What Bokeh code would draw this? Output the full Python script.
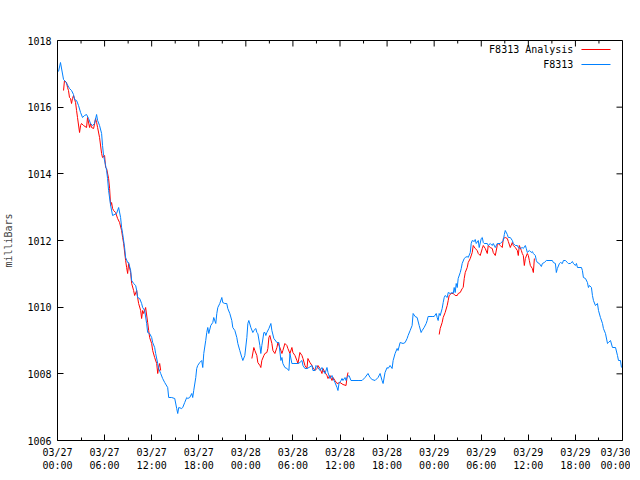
from bokeh.plotting import figure
from bokeh.models import Range1d, FixedTicker, Label
from bokeh.embed import file_html
from bokeh.resources import INLINE

FONT = "DejaVu Sans Mono"

title_text = "Barometric Pressure for F8313 on 2024-Mar-27 (time in UTC)"
y_label = "milliBars"
series_names = ["F8313 Analysis", "F8313"]

# hours since 2024-03-27 00:00 UTC
x_ticks = [0, 6, 12, 18, 24, 30, 36, 42, 48, 54, 60, 66, 72]
x_minor = [3, 9, 15, 21, 27, 33, 39, 45, 51, 57, 63, 69]
x_tick_labels = ["03/27\n00:00", "03/27\n06:00", "03/27\n12:00", "03/27\n18:00",
                 "03/28\n00:00", "03/28\n06:00", "03/28\n12:00", "03/28\n18:00",
                 "03/29\n00:00", "03/29\n06:00", "03/29\n12:00", "03/29\n18:00",
                 "03/30\n00:00"]
y_ticks = [1006, 1008, 1010, 1012, 1014, 1016, 1018]

# F8313 observations
obs_hours = [0.13, 0.38, 0.77, 1.02, 1.53, 1.79, 2.04, 2.17, 2.43, 2.68, 2.94, 3.19, 3.45, 3.70, 3.96, 4.21, 4.47, 4.72, 4.98, 5.11,
             5.36, 5.62, 5.74, 5.87, 6.13, 6.26, 6.38, 6.51, 6.77, 7.02, 7.53, 7.79, 8.04, 8.17, 8.30, 8.55, 8.68, 8.94, 9.06, 9.32,
             9.45, 9.70, 9.96, 10.09, 10.21, 10.47, 10.72, 10.85, 11.11, 11.36, 11.49, 11.74, 12.00, 12.13, 12.38, 12.51, 12.77, 12.89, 13.15, 13.40,
             13.66, 14.04, 14.17, 14.55, 14.94, 15.19, 15.32, 15.45, 15.83, 15.96, 16.21, 16.47, 16.60, 16.85, 17.11, 17.23, 17.36, 17.62, 17.74, 17.87,
             18.13, 18.38, 18.51, 18.64, 18.89, 19.02, 19.15, 19.28, 19.53, 19.79, 19.91, 20.17, 20.30, 20.43, 20.68, 20.94, 21.06, 21.32, 21.57, 21.70,
             21.96, 22.21, 22.34, 22.60, 22.85, 22.98, 23.23, 23.49, 23.62, 23.87, 24.13, 24.26, 24.38, 24.64, 24.89, 25.02, 25.28, 25.40, 25.53, 25.79,
             25.91, 26.04, 26.30, 26.43, 26.55, 26.68, 26.94, 27.19, 27.32, 27.57, 27.96, 28.21, 28.47, 28.60, 28.72, 28.98, 29.23, 29.49, 29.62, 29.87,
             30.13, 30.64, 30.89, 31.15, 31.28, 31.53, 31.79, 32.04, 32.43, 32.55, 32.81, 32.94, 33.19, 33.45, 33.70, 33.83, 34.09, 34.34, 34.47, 34.72,
             34.98, 35.11, 35.36, 35.62, 35.74, 35.87, 36.13, 36.26, 36.38, 36.64, 36.77, 36.89, 37.15, 37.40, 37.66, 38.30, 38.81, 39.19, 39.57, 39.83,
             40.09, 40.47, 40.85, 41.11, 41.36, 41.49, 41.74, 42.00, 42.13, 42.38, 42.64, 42.77, 43.02, 43.28, 43.40, 43.66, 44.04, 44.30, 44.55, 44.68,
             44.94, 45.19, 45.32, 45.57, 45.83, 46.09, 46.34, 46.47, 46.72, 46.98, 47.11, 47.23, 47.74, 48.00, 48.26, 48.38, 48.51, 48.64, 48.77, 49.02,
             49.15, 49.28, 49.40, 49.66, 49.79, 50.04, 50.30, 50.43, 50.55, 50.68, 50.81, 50.94, 51.06, 51.32, 51.45, 51.57, 51.83, 51.96, 52.21, 52.34,
             52.60, 52.72, 52.85, 53.11, 53.23, 53.36, 53.62, 53.74, 54.00, 54.13, 54.26, 54.38, 54.77, 54.89, 55.15, 55.40, 55.53, 55.79, 56.04, 56.43,
             56.81, 56.94, 57.06, 57.32, 57.45, 57.70, 57.96, 58.09, 58.34, 58.60, 58.72, 58.98, 59.23, 59.36, 59.62, 59.74, 59.87, 60.13, 60.38, 60.51,
             60.64, 60.89, 61.02, 61.15, 61.40, 61.66, 61.79, 62.04, 62.30, 63.06, 63.19, 63.45, 63.57, 63.70, 63.96, 64.09, 64.34, 64.47, 64.72, 64.98,
             65.11, 65.36, 65.62, 65.74, 66.00, 66.13, 66.26, 66.77, 66.89, 67.02, 67.28, 67.53, 67.66, 67.79, 68.04, 68.17, 68.30, 68.55, 68.81, 68.94,
             69.19, 69.45, 69.57, 69.83, 70.09, 70.21, 70.47, 70.72, 71.11, 71.36, 71.49, 71.74, 71.87]
obs_mb = [1017.07, 1017.34, 1016.83, 1016.77, 1016.56, 1016.50, 1016.38, 1016.23, 1016.20, 1016.05, 1015.84, 1015.69, 1015.75, 1015.78, 1015.66, 1015.51, 1015.45, 1015.51, 1015.78, 1015.60,
          1015.45, 1015.21, 1014.85, 1014.55, 1014.25, 1014.10, 1013.86, 1013.50, 1013.05, 1012.75, 1012.81, 1012.99, 1012.69, 1012.39, 1012.21, 1011.79, 1011.49, 1011.34, 1011.34, 1011.10,
          1010.80, 1010.71, 1010.65, 1010.50, 1010.29, 1010.26, 1010.11, 1009.99, 1009.90, 1009.51, 1009.24, 1009.21, 1009.09, 1008.94, 1008.79, 1008.61, 1008.31, 1008.16, 1008.01, 1007.86,
          1007.74, 1007.59, 1007.29, 1007.29, 1007.26, 1006.96, 1006.81, 1006.99, 1006.96, 1006.99, 1007.14, 1007.29, 1007.26, 1007.29, 1007.41, 1007.29, 1007.50, 1007.89, 1008.16, 1008.25,
          1008.34, 1008.40, 1008.19, 1008.61, 1009.00, 1009.24, 1009.39, 1009.21, 1009.45, 1009.54, 1009.69, 1009.51, 1009.81, 1009.99, 1010.11, 1010.29, 1010.14, 1010.11, 1010.11, 1009.96,
          1009.81, 1009.60, 1009.39, 1009.30, 1009.09, 1008.91, 1008.70, 1008.49, 1008.40, 1008.55, 1009.09, 1009.51, 1009.60, 1009.39, 1009.24, 1009.30, 1009.36, 1009.24, 1009.21, 1008.85,
          1008.61, 1008.85, 1009.24, 1009.24, 1009.15, 1009.24, 1009.36, 1009.51, 1009.30, 1009.06, 1008.94, 1008.94, 1008.40, 1008.49, 1008.31, 1008.19, 1008.16, 1008.10, 1008.61, 1008.31,
          1008.31, 1008.31, 1008.34, 1008.40, 1008.25, 1008.16, 1008.16, 1008.19, 1008.25, 1008.10, 1008.10, 1008.25, 1008.19, 1008.10, 1008.19, 1008.10, 1008.01, 1008.19, 1008.04, 1007.86,
          1007.95, 1007.86, 1007.74, 1007.59, 1007.50, 1007.71, 1007.80, 1007.86, 1007.80, 1007.89, 1007.80, 1007.89, 1007.95, 1007.80, 1007.80, 1007.80, 1007.80, 1007.89, 1008.01, 1007.89,
          1007.83, 1007.80, 1007.89, 1008.01, 1007.80, 1007.71, 1008.04, 1008.19, 1008.16, 1008.25, 1008.16, 1008.40, 1008.61, 1008.76, 1008.70, 1008.94, 1008.91, 1008.94, 1009.06, 1009.15,
          1009.30, 1009.45, 1009.81, 1009.72, 1009.69, 1009.45, 1009.24, 1009.30, 1009.39, 1009.51, 1009.60, 1009.72, 1009.72, 1009.72, 1009.81, 1009.69, 1009.60, 1009.81, 1009.75, 1009.96,
          1010.14, 1010.29, 1010.35, 1010.29, 1010.44, 1010.41, 1010.44, 1010.41, 1010.59, 1010.44, 1010.71, 1010.59, 1010.86, 1011.04, 1011.16, 1011.31, 1011.46, 1011.49, 1011.52, 1011.49,
          1011.64, 1011.91, 1012.00, 1011.97, 1012.03, 1011.91, 1012.00, 1011.79, 1012.06, 1012.09, 1011.94, 1011.91, 1011.91, 1011.85, 1011.91, 1011.85, 1011.91, 1011.79, 1011.91, 1011.91,
          1012.00, 1012.18, 1012.30, 1012.18, 1012.09, 1012.09, 1012.00, 1011.91, 1011.85, 1011.85, 1011.79, 1011.76, 1011.79, 1011.76, 1011.85, 1011.76, 1011.64, 1011.70, 1011.64, 1011.67,
          1011.61, 1011.55, 1011.40, 1011.34, 1011.31, 1011.22, 1011.31, 1011.34, 1011.40, 1011.40, 1011.34, 1011.31, 1011.04, 1011.16, 1011.31, 1011.34, 1011.31, 1011.40, 1011.40, 1011.34,
          1011.31, 1011.31, 1011.37, 1011.31, 1011.25, 1011.31, 1011.19, 1011.19, 1011.10, 1010.89, 1010.86, 1010.74, 1010.59, 1010.65, 1010.59, 1010.35, 1010.20, 1010.05, 1010.11, 1009.90,
          1009.69, 1009.51, 1009.36, 1009.21, 1008.91, 1008.94, 1009.00, 1008.79, 1008.79, 1008.55, 1008.40, 1008.40, 1008.19]

# F8313 Analysis (three separate runs)
ana1_hours = [0.77, 0.89, 1.15, 1.28, 1.40, 1.53, 1.66, 1.79, 1.91, 2.04, 2.30, 2.43, 2.55, 2.81, 2.94, 3.06, 3.32, 3.70, 3.83, 4.09,
              4.21, 4.34, 4.60, 4.85, 4.98, 5.11, 5.36, 5.62, 5.74, 6.00, 6.13, 6.26, 6.51, 6.64, 6.77, 6.89, 7.02, 7.15, 7.40, 7.66,
              7.91, 8.17, 8.30, 8.43, 8.68, 8.81, 8.94, 9.06, 9.32, 9.45, 9.70, 9.83, 10.09, 10.21, 10.34, 10.60, 10.72, 10.85, 10.98, 11.23,
              11.49, 11.62, 11.74, 12.00, 12.13, 12.38, 12.64, 12.77, 12.89, 13.02, 13.15]
ana1_mb = [1016.50, 1016.80, 1016.74, 1016.59, 1016.50, 1016.29, 1016.26, 1016.11, 1016.26, 1016.35, 1016.14, 1015.90, 1015.69, 1015.24, 1015.45, 1015.51, 1015.45, 1015.39, 1015.69, 1015.39,
           1015.51, 1015.39, 1015.36, 1015.66, 1015.54, 1015.39, 1015.09, 1014.61, 1014.49, 1014.55, 1014.19, 1014.16, 1013.86, 1013.56, 1013.05, 1013.14, 1012.96, 1012.90, 1012.84, 1012.66,
           1012.54, 1012.30, 1012.09, 1011.91, 1011.40, 1011.19, 1011.01, 1011.31, 1011.04, 1010.71, 1010.50, 1010.35, 1010.50, 1010.29, 1010.11, 1009.90, 1009.66, 1009.90, 1009.81, 1009.99,
           1009.54, 1009.30, 1009.09, 1008.91, 1008.70, 1008.49, 1008.31, 1008.01, 1008.19, 1008.31, 1008.10]
ana2_hours = [24.77, 25.02, 25.15, 25.40, 25.53, 25.79, 25.91, 26.04, 26.30, 26.43, 26.68, 26.81, 26.94, 27.06, 27.32, 27.45, 27.70, 27.96, 28.09, 28.34,
              28.60, 28.72, 28.98, 29.23, 29.36, 29.62, 29.87, 30.00, 30.26, 30.51, 30.64, 30.89, 31.15, 31.28, 31.53, 31.79, 31.91, 32.17, 32.43, 32.55,
              32.81, 33.06, 33.19, 33.45, 33.70, 33.83, 34.09, 34.34, 34.47, 34.72, 34.98, 35.11, 35.36, 35.62, 36.00, 36.38, 36.77, 36.89, 37.02]
ana2_mb = [1008.46, 1008.79, 1008.70, 1008.55, 1008.34, 1008.25, 1008.19, 1008.40, 1008.55, 1008.61, 1008.64, 1008.76, 1009.09, 1009.15, 1008.91, 1008.70, 1008.61, 1008.79, 1008.94, 1008.79,
           1008.61, 1008.70, 1008.91, 1008.85, 1008.76, 1008.61, 1008.79, 1008.64, 1008.55, 1008.40, 1008.31, 1008.64, 1008.55, 1008.46, 1008.25, 1008.16, 1008.46, 1008.34, 1008.25, 1008.19,
           1008.10, 1008.16, 1008.25, 1008.16, 1008.01, 1008.16, 1008.04, 1007.95, 1007.86, 1007.95, 1007.80, 1007.89, 1007.80, 1007.71, 1007.74, 1007.68, 1007.65, 1007.89, 1008.04]
ana3_hours = [48.64, 48.77, 49.02, 49.15, 49.40, 49.66, 49.79, 49.91, 50.17, 50.43, 50.68, 50.94, 51.06, 51.32, 51.57, 51.70, 51.83, 51.96, 52.21, 52.34,
              52.60, 52.85, 52.98, 53.23, 53.49, 53.62, 53.87, 54.13, 54.26, 54.51, 54.77, 54.89, 55.15, 55.40, 55.53, 55.79, 56.04, 56.17, 56.43, 56.68,
              56.81, 57.06, 57.32, 57.45, 57.70, 57.96, 58.09, 58.34, 58.60, 58.72, 58.85, 59.11, 59.23, 59.36, 59.49, 59.62, 59.87, 60.00, 60.13, 60.26,
              60.51, 60.64, 60.77]
ana3_mb = [1009.18, 1009.36, 1009.54, 1009.69, 1009.84, 1010.05, 1010.20, 1010.35, 1010.41, 1010.41, 1010.35, 1010.35, 1010.41, 1010.44, 1010.56, 1010.59, 1010.86, 1011.04, 1011.19, 1011.34,
           1011.46, 1011.64, 1011.85, 1011.76, 1011.70, 1011.61, 1011.55, 1011.76, 1011.85, 1011.76, 1011.61, 1011.85, 1011.79, 1011.76, 1011.64, 1011.55, 1011.85, 1011.91, 1011.85, 1011.79,
           1012.06, 1012.09, 1012.06, 1011.97, 1011.79, 1011.94, 1011.85, 1011.79, 1011.70, 1011.55, 1011.85, 1011.70, 1011.61, 1011.55, 1011.25, 1011.46, 1011.61, 1011.55, 1011.40, 1011.25,
           1011.16, 1011.04, 1011.46]

RED = "#ff0000"
BLUE = "#0080ff"

X0, X1, Y0, Y1 = 0, 72, 1006, 1018
p = figure(width=630, height=474,
           x_range=Range1d(X0, X1), y_range=Range1d(Y0, Y1),
           output_backend="svg", toolbar_location=None,
           min_border_left=50, min_border_right=8, min_border_top=40, min_border_bottom=32)
p.background_fill_color = "white"
p.border_fill_color = "white"
p.outline_line_color = "black"
p.outline_line_width = 1
p.xgrid.visible = False
p.ygrid.visible = False

nan = float("nan")
ana_hours = ana1_hours + [nan] + ana2_hours + [nan] + ana3_hours
ana_mb = ana1_mb + [nan] + ana2_mb + [nan] + ana3_mb
p.line(ana_hours, ana_mb, line_color=RED, line_width=1)
p.line(obs_hours, obs_mb, line_color=BLUE, line_width=1)


def style_axis(ax):
    ax.axis_line_color = None
    ax.major_tick_in = 6
    ax.major_tick_out = 0
    ax.minor_tick_in = 3
    ax.minor_tick_out = 0
    ax.major_tick_line_color = "black"
    ax.minor_tick_line_color = "black"
    ax.major_label_text_font = FONT
    ax.major_label_text_font_size = "10px"
    ax.major_label_text_color = "black"

xb = p.xaxis[0]
xb.ticker = FixedTicker(ticks=x_ticks, minor_ticks=x_minor)
xb.major_label_overrides = {t: l for t, l in zip(x_ticks, x_tick_labels)}
style_axis(xb)
xb.major_label_standoff = 6
xb.major_label_text_line_height = 1.25

yl = p.yaxis[0]
yl.ticker = FixedTicker(ticks=y_ticks, minor_ticks=[])
style_axis(yl)
yl.major_label_standoff = 6
yl.axis_label = y_label
yl.axis_label_text_font = FONT
yl.axis_label_text_font_size = "10px"
yl.axis_label_text_font_style = "normal"
yl.axis_label_standoff = 10

# mirrored ticks on the top and right borders (gnuplot style), derived from the tick lists
tick_major_h = 6 * (Y1 - Y0) / 400.0
tick_minor_h = 3 * (Y1 - Y0) / 400.0
tick_major_w = 6 * (X1 - X0) / 564.0
p.segment(x0=x_ticks, y0=[Y1] * len(x_ticks), x1=x_ticks, y1=[Y1 - tick_major_h] * len(x_ticks),
          line_color="black", line_width=1)
p.segment(x0=x_minor, y0=[Y1] * len(x_minor), x1=x_minor, y1=[Y1 - tick_minor_h] * len(x_minor),
          line_color="black", line_width=1)
p.segment(x0=[X1] * len(y_ticks), y0=y_ticks, x1=[X1 - tick_major_w] * len(y_ticks), y1=y_ticks,
          line_color="black", line_width=1)

# title above the frame
p.add_layout(Label(x=(X0 + X1) / 2, y=1018.63, text=title_text, text_align="center", text_baseline="middle",
                   text_font=FONT, text_font_size="10px", text_color="black"))

# legend (gnuplot style: label on the left, sample on the right)
leg_y = [1017.73, 1017.28]
leg_col = [RED, BLUE]
for name, yy, col in zip(series_names, leg_y, leg_col):
    p.add_layout(Label(x=65.74, y=yy, text=name, text_align="right", text_baseline="middle",
                       text_font=FONT, text_font_size="10px", text_color="black"))
    p.segment(x0=[66.77], y0=[yy], x1=[70.47], y1=[yy], line_color=col, line_width=1)

open("out.html", "w").write(file_html(p, INLINE))
